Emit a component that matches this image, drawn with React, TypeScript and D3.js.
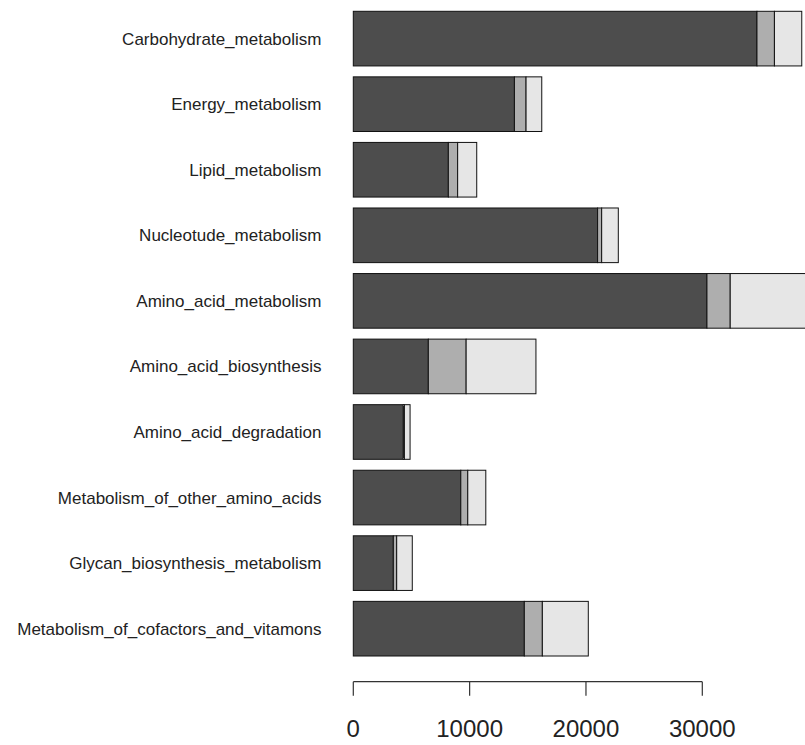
import React, { useEffect, useRef } from 'react';
import * as d3 from 'd3';

const categories = [
  'Carbohydrate_metabolism',
  'Energy_metabolism',
  'Lipid_metabolism',
  'Nucleotude_metabolism',
  'Amino_acid_metabolism',
  'Amino_acid_biosynthesis',
  'Amino_acid_degradation',
  'Metabolism_of_other_amino_acids',
  'Glycan_biosynthesis_metabolism',
  'Metabolism_of_cofactors_and_vitamons',
];

// three stacked parts per pathway
const part1 = [34700, 13850, 8170, 21000, 30400, 6450, 4300, 9240, 3440, 14700];
const part2 = [1500, 1000, 800, 350, 2000, 3250, 90, 600, 290, 1550];
const part3 = [2350, 1350, 1640, 1430, 8100, 6000, 490, 1550, 1340, 3950];

const xTicks = [0, 10000, 20000, 30000];
const partColors = ['#4D4D4D', '#AEAEAE', '#E6E6E6'];

const width = 805;
const height = 745;

const App: React.FC = () => {
  const svgRef = useRef<SVGSVGElement | null>(null);

  useEffect(() => {
    if (!svgRef.current) return;
    const svg = d3.select(svgRef.current);
    svg.selectAll('*').remove();

    const rows = categories.map((c, i) => ({ name: c, p1: part1[i], p2: part2[i], p3: part3[i] }));
    const series = d3.stack<any>().keys(['p1', 'p2', 'p3'])(rows);

    const x = d3.scaleLinear().domain([0, 30000]).range([353.3, 702.3]);
    const y = d3.scaleBand<string>()
      .domain(categories)
      .range([11.3, 656])
      .paddingInner(1 / 6)
      .paddingOuter(0);

    svg.append('g')
      .selectAll('g')
      .data(series)
      .join('g')
      .attr('fill', (_d, i) => partColors[i])
      .selectAll('rect')
      .data(d => d)
      .join('rect')
      .attr('x', d => x(d[0]))
      .attr('y', d => y(d.data.name) as number)
      .attr('width', d => Math.max(0, x(d[1]) - x(d[0])))
      .attr('height', y.bandwidth())
      .attr('stroke', '#111')
      .attr('stroke-width', 1);

    // category names
    svg.append('g')
      .selectAll('text')
      .data(categories)
      .join('text')
      .attr('x', 321.5)
      .attr('y', d => (y(d) as number) + y.bandwidth() / 2)
      .attr('dy', '0.35em')
      .attr('text-anchor', 'end')
      .attr('font-family', 'Liberation Sans, Arial, sans-serif')
      .attr('font-size', 17)
      .attr('fill', '#222')
      .text(d => d);

    // bottom axis
    const axisY = 681.7;
    const ax = svg.append('g').attr('stroke', '#333').attr('stroke-width', 1.2);
    ax.append('line')
      .attr('x1', x(0)).attr('x2', x(30000))
      .attr('y1', axisY).attr('y2', axisY);
    ax.selectAll('line.tick')
      .data(xTicks)
      .join('line')
      .attr('class', 'tick')
      .attr('x1', d => x(d)).attr('x2', d => x(d))
      .attr('y1', axisY).attr('y2', axisY + 14);

    svg.append('g')
      .selectAll('text')
      .data(xTicks)
      .join('text')
      .attr('x', d => x(d))
      .attr('y', 737)
      .attr('text-anchor', 'middle')
      .attr('font-family', 'Liberation Sans, Arial, sans-serif')
      .attr('font-size', 24)
      .attr('fill', '#222')
      .text(d => String(d));
  }, []);

  return (
    <svg
      ref={svgRef}
      width={width}
      height={height}
      style={{ position: 'absolute', left: 0, top: 0, background: '#fff' }}
    />
  );
};

export default App;
